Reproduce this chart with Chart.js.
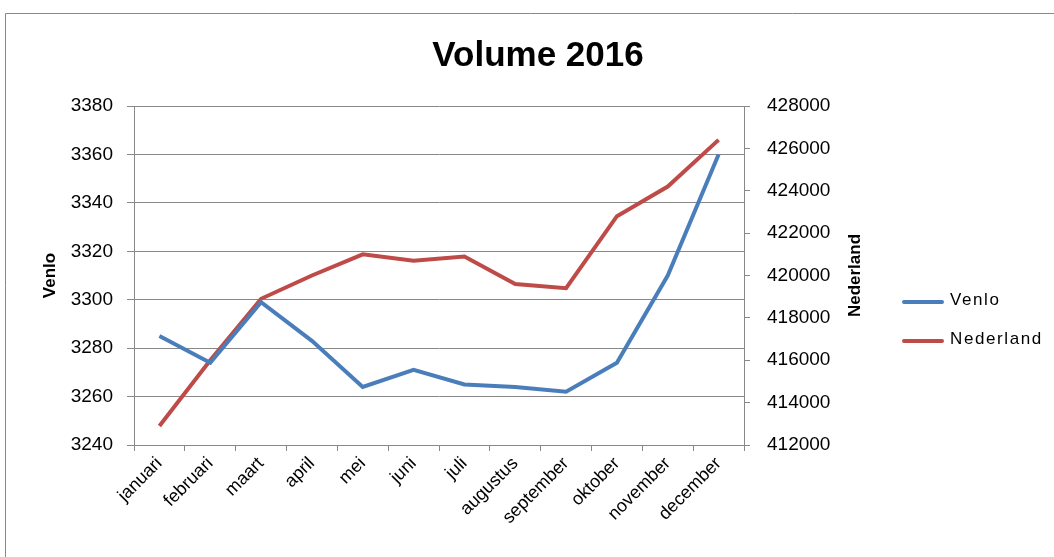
<!DOCTYPE html>
<html>
<head>
<meta charset="utf-8">
<script src="https://cdn.jsdelivr.net/npm/chart.js@4.4.1/dist/chart.umd.min.js"></script>
<style>
  html, body { margin: 0; padding: 0; background: #fff; }
  #wrap { position: relative; width: 1054px; height: 557px; }
  #legend { position: absolute; left: 902px; top: 290px; font: 17px "Liberation Sans", Arial, sans-serif; letter-spacing: 1.6px; }
  #legend div { height: 39px; display: flex; align-items: flex-start; }
  #legend span.sw { display: inline-block; width: 42px; height: 4px; margin-top: 10px; margin-right: 6px; border-radius: 2px; }
</style>
</head>
<body>
<div id="wrap">
  <canvas id="myChart" width="1054" height="557"></canvas>
  <div id="legend"></div>
</div>
<script>
var maanden = ["januari", "februari", "maart", "april", "mei", "juni", "juli", "augustus", "september", "oktober", "november", "december"];
var venlo = [3285, 3274, 3299, 3283, 3264, 3271, 3265, 3264, 3262, 3274, 3310, 3360];
var nederland = [412900, 416000, 418900, 420000, 421000, 420700, 420900, 419600, 419400, 422800, 424200, 426400];
var kleuren = ["#4a7ebb", "#be4b48"];
var namen = ["Venlo", "Nederland"];
var titel = "Volume 2016";

var font = '"Liberation Sans", Arial, sans-serif';
var grijs = "#888888";

// randje, titel en as titels zelf tekenen (rechter titel leest van onder naar boven)
var extraTekst = {
    id: 'extraTekst',
    beforeDraw: function (chart) {
        var c = chart.ctx;
        c.save();
        c.strokeStyle = grijs;
        c.lineWidth = 1;
        c.beginPath();
        c.moveTo(5.5, 600);
        c.lineTo(5.5, 13.5);
        c.lineTo(1100, 13.5);
        c.stroke();
        c.restore();
    },
    afterDraw: function (chart) {
        var c = chart.ctx;
        var a = chart.chartArea;
        var midden = (a.top + a.bottom) / 2;
        c.save();
        c.fillStyle = "#000";
        c.font = "bold 35px " + font;
        c.textAlign = "center";
        c.textBaseline = "middle";
        c.fillText(titel, 538, 56);
        c.restore();

        c.save();
        c.fillStyle = "#000";
        c.font = "bold 17px " + font;
        c.textAlign = "center";
        c.textBaseline = "middle";
        c.translate(50, midden);
        c.rotate(-Math.PI / 2);
        c.fillText(namen[0], 0, 0);
        c.restore();

        c.save();
        c.fillStyle = "#000";
        c.font = "bold 17px " + font;
        c.textAlign = "center";
        c.textBaseline = "middle";
        c.translate(855, midden);
        c.rotate(-Math.PI / 2);
        c.fillText(namen[1], 0, 0);
        c.restore();
    }
};

var ctx = document.getElementById('myChart').getContext('2d');
var chart = new Chart(ctx, {
    type: 'line',
    data: {
        labels: maanden,
        datasets: [{
            label: namen[0],
            data: venlo,
            borderColor: kleuren[0],
            backgroundColor: kleuren[0],
            borderWidth: 4,
            pointRadius: 0,
            tension: 0,
            fill: false,
            yAxisID: 'y'
        },
        {
            label: namen[1],
            data: nederland,
            borderColor: kleuren[1],
            backgroundColor: kleuren[1],
            borderWidth: 4,
            pointRadius: 0,
            tension: 0,
            fill: false,
            yAxisID: 'y2'
        }]
    },
    options: {
        responsive: false,
        animation: false,
        layout: { padding: { left: 0, right: 210, top: 106, bottom: 0 } },
        plugins: {
            legend: { display: false },
            tooltip: { enabled: false },
            title: { display: false }
        },
        scales: {
            x: {
                offset: true,
                grid: { display: true, drawOnChartArea: false, offset: true, tickLength: 6, color: grijs },
                border: { color: grijs },
                ticks: { color: '#000', font: { family: font, size: 18 }, minRotation: 45, maxRotation: 45, padding: 2 },
                afterFit: function (s) { s.height = 112; }
            },
            y: {
                position: 'left',
                min: 3240,
                max: 3380,
                ticks: {
                    stepSize: 20, color: '#000', font: { family: font, size: 19 }, padding: 14,
                    callback: function (v) { return String(v); }
                },
                grid: { color: grijs, tickLength: 7 },
                border: { color: grijs },
                afterFit: function (s) { s.width = 134; }
            },
            y2: {
                position: 'right',
                min: 412000,
                max: 428000,
                ticks: {
                    stepSize: 2000, color: '#000', font: { family: font, size: 19 }, padding: 17,
                    callback: function (v) { return String(v); }
                },
                grid: { drawOnChartArea: false, color: grijs, tickLength: 6 },
                border: { color: grijs },
                afterFit: function (s) { s.width = 100; }
            }
        }
    },
    plugins: [extraTekst]
});

var lg = document.getElementById('legend');
for (var i = 0; i < namen.length; i++) {
    var rij = document.createElement('div');
    rij.innerHTML = '<span class="sw" style="background:' + kleuren[i] + '"></span>' + namen[i];
    lg.appendChild(rij);
}
</script>
</body>
</html>
